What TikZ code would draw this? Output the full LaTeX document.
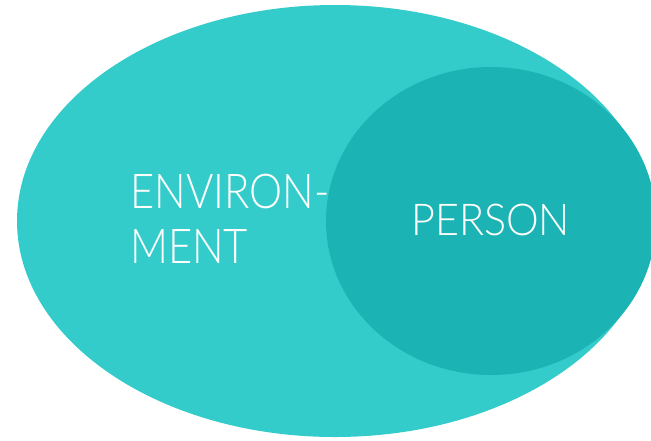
\documentclass[tikz,border=0pt]{standalone}
\usepackage{fontspec}
\setmainfont{Lato}[UprightFont=* Light]
\newfontfamily\envfont{Lato}[UprightFont=* Light, FakeStretch=0.87]
\newfontfamily\personfont{Lato}[UprightFont=* Light, FakeStretch=0.94]
\usepackage{tikz}
\usetikzlibrary{positioning}

\definecolor{envcol}{HTML}{34CBCB}
\definecolor{personcol}{HTML}{1BB3B4}

\tikzset{
  lbl/.style={text=white, inner sep=0pt, anchor=base west},
}

\begin{document}
\begin{tikzpicture}[x=0.03cm, y=-0.03cm]
    \useasboundingbox (0,0) rectangle (651,440);
    \clip (0,0) rectangle (651,440);
    % outer area
    \fill[envcol] (335,221) ellipse [x radius=318, y radius=216];
    % inner area
    \fill[personcol] (491,221) ellipse [x radius=165, y radius=154];
    \node[lbl, font=\envfont\fontsize{41}{41}\selectfont] (env) at (130,208) {ENVIRON-};
    \node[lbl, font=\envfont\fontsize{41}{41}\selectfont] (ment) at (130,263) {MENT};
    \node[lbl, font=\personfont\fontsize{37.5}{37.5}\selectfont] (person) at (411,235) {PERSON};
\end{tikzpicture}
\end{document}
